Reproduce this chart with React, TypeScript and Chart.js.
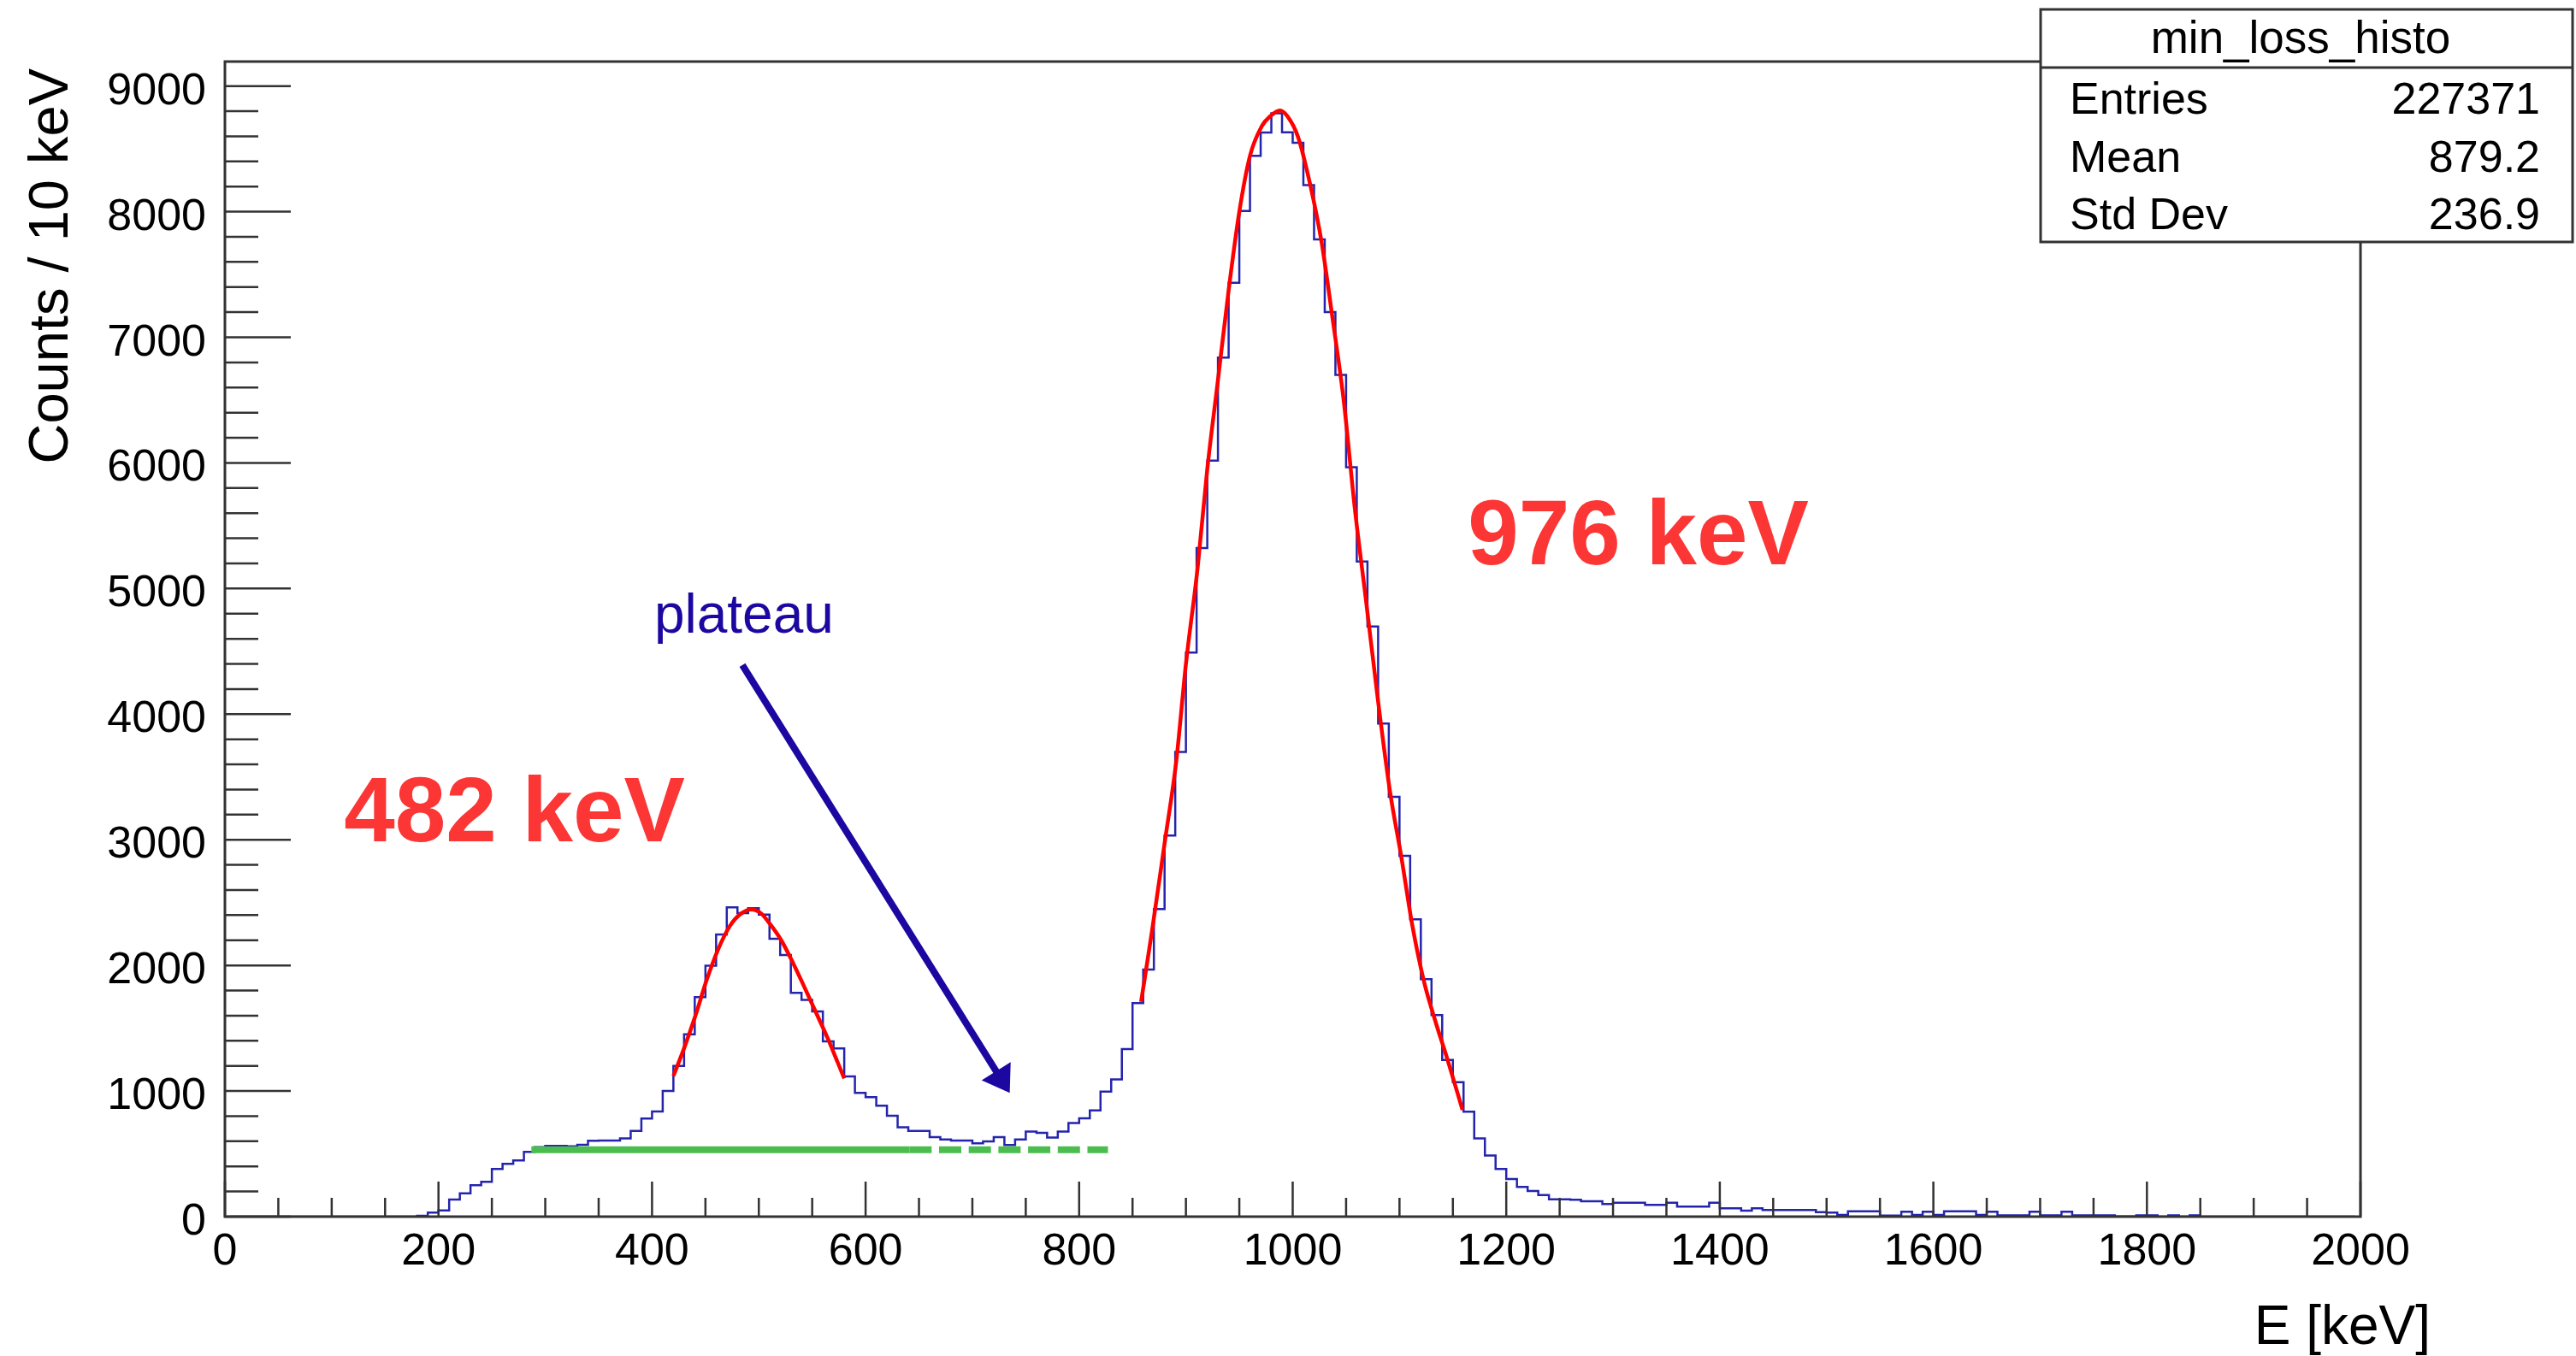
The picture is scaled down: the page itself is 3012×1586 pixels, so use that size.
import React, { useEffect, useRef } from "react";
import { Chart, registerables } from "chart.js";

Chart.register(...registerables);

// ---------------- data ----------------
const BIN_START = 180; // keV, low edge of first listed bin
const BIN_WIDTH = 10; // keV
const counts = [
  6, 32, 50, 136, 186, 250, 277, 379, 420, 447, // 180-270
  515, 553, 563, 563, 560, 572, 604, 606, 606, 622, // 280-370
  683, 781, 837, 1001, 1200, 1452, 1747, 1997, 2246, 2462, // 380-470
  2417, 2455, 2405, 2212, 2083, 1781, 1725, 1634, 1396, 1339, // 480-570
  1116, 985, 951, 883, 803, 712, 683, 683, 633, 615, // 580-670
  606, 606, 583, 599, 633, 570, 615, 678, 667, 629, // 680-770
  678, 745, 782, 846, 996, 1092, 1334, 1700, 1967, 2448, // 780-870
  3033, 3699, 4490, 5323, 6019, 6839, 7434, 8005, 8444, 8630, // 880-970
  8784, 8632, 8548, 8212, 7780, 7200, 6700, 5965, 5216, 4698, // 980-1070
  3925, 3342, 2872, 2366, 1891, 1605, 1248, 1070, 835, 622, // 1080-1170
  486, 380, 300, 236, 205, 172, 138, 138, 134, 123, // 1180-1270
  123, 100, 111, 111, 111, 93, 93, 111, 80, 80, // 1280-1370
  80, 111, 66, 66, 48, 66, 52, 52, 52, 52, // 1380-1470
  52, 36, 32, 14, 43, 43, 43, 9, 9, 39, // 1480-1570
  14, 39, 14, 43, 43, 43, 14, 39, 11, 11, // 1580-1670
  11, 39, 11, 11, 39, 11, 11, 11, 11, 2, // 1680-1770
  2, 11, 11, 0, 11, 0, 11, // 1780-1840
];

// fitted curves (energy keV, counts)
const smallFitE = [420, 430, 441, 451, 462, 473, 483, 493, 502, 510, 521, 532, 542, 553, 564, 574, 580];
const smallFitV = [1120, 1340, 1610, 1880, 2130, 2315, 2410, 2445, 2415, 2335, 2200, 2020, 1840, 1635, 1430, 1225, 1100];

const bigFitE = [858, 868, 880, 891, 900, 911, 920, 930, 940, 950, 960, 971, 979, 988, 995, 1005, 1016, 1027, 1037, 1048, 1058, 1069, 1080, 1091, 1102, 1112, 1123, 1134, 1145, 1159];
const bigFitV = [1710, 2260, 2970, 3630, 4400, 5170, 5950, 6660, 7375, 8000, 8445, 8680, 8760, 8805, 8760, 8595, 8230, 7760, 7170, 6480, 5650, 4880, 4100, 3390, 2850, 2320, 1870, 1545, 1250, 850];

// plateau level line
const plateauLevel = 532;
const plateauSolidE = [287, 641];
const plateauDashedE = [641, 827];

// axes
const xTicks = [0, 200, 400, 600, 800, 1000, 1200, 1400, 1600, 1800, 2000];
const yTicks = [0, 1000, 2000, 3000, 4000, 5000, 6000, 7000, 8000, 9000];
const X_MIN = 0;
const X_MAX = 2000;
const Y_MIN = 0;
const Y_MAX = 9195;
const xTitle = "E [keV]";
const yTitle = "Counts / 10 keV";

// stats box
const statsTitle = "min_loss_histo";
const statsNames = ["Entries", "Mean", "Std Dev"];
const statsValues = ["227371", "879.2", "236.9"];

// annotations (data coordinates)
const peakLabels = [
  { text: "482 keV", e: 111.5, v: 2990 },
  { text: "976 keV", e: 1164, v: 5190 },
];
const plateauText = { text: "plateau", e: 402, v: 4649 };
const arrowFrom = { e: 484.6, v: 4391 };
const arrowTo = { e: 735, v: 985 };

// ---------------- styling ----------------
const FONT = '"Liberation Sans", Arial, Helvetica, sans-serif';
const W = 3012;
const H = 1586;
const HIST_COLOR = "#2424ad";
const FIT_COLOR = "#ff0000";
const GREEN = "#4bbd4f";
const LABEL_RED = "#fc3535";
const ARROW_BLUE = "#1c08a0";
const AXIS_COLOR = "#333333";

function buildHistogram() {
  const pts: { x: number; y: number }[] = [];
  const nBins = Math.round((X_MAX - X_MIN) / BIN_WIDTH);
  const startIdx = Math.round((BIN_START - X_MIN) / BIN_WIDTH);
  for (let i = 0; i < nBins; i++) {
    const k = i - startIdx;
    const v = k >= 0 && k < counts.length ? counts[k] : 0;
    pts.push({ x: X_MIN + (i + 0.5) * BIN_WIDTH, y: v });
  }
  return pts;
}

const rootDecor = {
  id: "rootDecor",
  afterDatasetsDraw(chart: any) {
    const ctx: CanvasRenderingContext2D = chart.ctx;
    const xs = chart.scales.x;
    const ys = chart.scales.y;
    const a = chart.chartArea;
    ctx.save();

    // frame
    ctx.strokeStyle = AXIS_COLOR;
    ctx.lineWidth = 3;
    ctx.strokeRect(a.left, a.top, a.right - a.left, a.bottom - a.top);

    // x ticks (major 200, minor 50)
    ctx.lineWidth = 2.5;
    ctx.beginPath();
    for (let v = X_MIN; v <= X_MAX; v += 50) {
      const px = xs.getPixelForValue(v);
      const len = v % 200 === 0 ? 41 : 22;
      ctx.moveTo(px, a.bottom);
      ctx.lineTo(px, a.bottom - len);
    }
    // y ticks (major 1000, minor 200)
    for (let v = Y_MIN; v <= Y_MAX; v += 200) {
      const py = ys.getPixelForValue(v);
      const len = v % 1000 === 0 ? 77 : 39;
      ctx.moveTo(a.left, py);
      ctx.lineTo(a.left + len, py);
    }
    ctx.stroke();

    // tick labels
    ctx.fillStyle = "#000";
    ctx.font = `52px ${FONT}`;
    ctx.textAlign = "center";
    ctx.textBaseline = "alphabetic";
    for (const t of xTicks) {
      ctx.fillText(String(t), xs.getPixelForValue(t), a.bottom + 56);
    }
    ctx.textAlign = "right";
    for (const t of yTicks) {
      ctx.fillText(String(t), a.left - 22, ys.getPixelForValue(t) + 21);
    }

    // axis titles
    ctx.font = `64px ${FONT}`;
    ctx.textAlign = "right";
    ctx.fillText(xTitle, 2842, 1572);
    ctx.save();
    ctx.translate(79, 80);
    ctx.rotate(-Math.PI / 2);
    ctx.font = `65px ${FONT}`;
    ctx.textAlign = "right";
    ctx.fillText(yTitle, 0, 0);
    ctx.restore();

    // peak labels
    ctx.fillStyle = LABEL_RED;
    ctx.font = `bold 107px ${FONT}`;
    ctx.textAlign = "left";
    for (const p of peakLabels) {
      ctx.fillText(p.text, xs.getPixelForValue(p.e), ys.getPixelForValue(p.v));
    }

    // plateau text
    ctx.fillStyle = ARROW_BLUE;
    ctx.font = `64px ${FONT}`;
    ctx.fillText(plateauText.text, xs.getPixelForValue(plateauText.e), ys.getPixelForValue(plateauText.v));

    // arrow
    const x0 = xs.getPixelForValue(arrowFrom.e);
    const y0 = ys.getPixelForValue(arrowFrom.v);
    const x1 = xs.getPixelForValue(arrowTo.e);
    const y1 = ys.getPixelForValue(arrowTo.v);
    const dx = x1 - x0;
    const dy = y1 - y0;
    const L = Math.hypot(dx, dy);
    const ux = dx / L;
    const uy = dy / L;
    const headLen = 30;
    const headHalf = 20;
    const bx = x1 - ux * headLen;
    const by = y1 - uy * headLen;
    ctx.strokeStyle = ARROW_BLUE;
    ctx.lineWidth = 8;
    ctx.beginPath();
    ctx.moveTo(x0, y0);
    ctx.lineTo(bx + ux * 2, by + uy * 2);
    ctx.stroke();
    ctx.fillStyle = ARROW_BLUE;
    ctx.beginPath();
    ctx.moveTo(x1, y1);
    ctx.lineTo(bx - uy * headHalf, by + ux * headHalf);
    ctx.lineTo(bx + uy * headHalf, by - ux * headHalf);
    ctx.closePath();
    ctx.fill();

    ctx.restore();
  },
  afterDraw(chart: any) {
    const ctx: CanvasRenderingContext2D = chart.ctx;
    ctx.save();
    // stats box (pad element, fixed position in the canvas)
    const bx0 = 2386;
    const by0 = 11;
    const bx1 = 3008;
    const by1 = 283;
    const divY = 79;
    ctx.fillStyle = "#ffffff";
    ctx.fillRect(bx0, by0, bx1 - bx0, by1 - by0);
    ctx.strokeStyle = AXIS_COLOR;
    ctx.lineWidth = 3;
    ctx.strokeRect(bx0, by0, bx1 - bx0, by1 - by0);
    ctx.beginPath();
    ctx.moveTo(bx0, divY);
    ctx.lineTo(bx1, divY);
    ctx.stroke();

    ctx.fillStyle = "#000";
    ctx.font = `53px ${FONT}`;
    ctx.textAlign = "center";
    ctx.textBaseline = "alphabetic";
    ctx.fillText(statsTitle, 2690, 62);

    ctx.font = `52px ${FONT}`;
    const baselines = [133, 201, 268];
    for (let i = 0; i < statsNames.length; i++) {
      ctx.textAlign = "left";
      ctx.fillText(statsNames[i], 2420, baselines[i]);
      ctx.textAlign = "right";
      ctx.fillText(statsValues[i], 2970, baselines[i]);
    }
    ctx.restore();
  },
};

export default function App() {
  const canvasRef = useRef<HTMLCanvasElement | null>(null);

  useEffect(() => {
    document.body.style.margin = "0";
    document.body.style.overflow = "hidden";
    const canvas = canvasRef.current;
    if (!canvas) return;

    const hist = buildHistogram();
    const smallFit = smallFitE.map((e, i) => ({ x: e, y: smallFitV[i] }));
    const bigFit = bigFitE.map((e, i) => ({ x: e, y: bigFitV[i] }));
    const plateauSolid = plateauSolidE.map((e) => ({ x: e, y: plateauLevel }));
    const plateauDashed = plateauDashedE.map((e) => ({ x: e, y: plateauLevel }));

    const chart = new Chart(canvas, {
      type: "line",
      data: {
        datasets: [
          {
            label: "fit 976",
            data: bigFit,
            borderColor: FIT_COLOR,
            borderWidth: 4.5,
            pointRadius: 0,
            cubicInterpolationMode: "monotone",
            order: 1,
          },
          {
            label: "fit 482",
            data: smallFit,
            borderColor: FIT_COLOR,
            borderWidth: 4.5,
            pointRadius: 0,
            cubicInterpolationMode: "monotone",
            order: 1,
          },
          {
            label: "plateau solid",
            data: plateauSolid,
            borderColor: GREEN,
            borderWidth: 8,
            pointRadius: 0,
            borderCapStyle: "butt",
            order: 2,
          },
          {
            label: "plateau dashed",
            data: plateauDashed,
            borderColor: GREEN,
            borderWidth: 8,
            pointRadius: 0,
            borderDash: [26, 8.7],
            borderCapStyle: "butt",
            order: 2,
          },
          {
            label: "min_loss_histo",
            data: hist,
            borderColor: HIST_COLOR,
            borderWidth: 2.5,
            pointRadius: 0,
            stepped: "middle",
            order: 3,
          },
        ],
      },
      options: {
        animation: false,
        responsive: false,
        devicePixelRatio: 1,
        events: [],
        layout: { padding: { left: 263, right: W - 2760, top: 72, bottom: H - 1423 } },
        plugins: { legend: { display: false }, tooltip: { enabled: false } },
        scales: {
          x: { type: "linear", min: X_MIN, max: X_MAX, display: false },
          y: { type: "linear", min: Y_MIN, max: Y_MAX, display: false },
        },
      },
      plugins: [rootDecor],
    } as any);

    return () => chart.destroy();
  }, []);

  return (
    <div style={{ position: "absolute", left: 0, top: 0, width: W, height: H, background: "#fff" }}>
      <canvas ref={canvasRef} width={W} height={H} style={{ display: "block", width: W, height: H }} />
    </div>
  );
}
